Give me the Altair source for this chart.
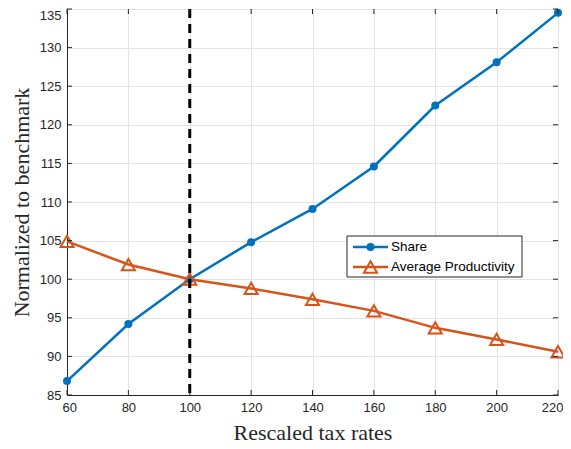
import altair as alt
import pandas as pd

# ---- data ----
tax = [60, 80, 100, 120, 140, 160, 180, 200, 220]
share = [86.8, 94.2, 100.0, 104.8, 109.1, 114.6, 122.5, 128.1, 134.5]
productivity = [104.9, 101.9, 100.0, 98.8, 97.4, 95.9, 93.7, 92.2, 90.6]
series = ["Share", "Average Productivity"]
x_ticks = [60, 80, 100, 120, 140, 160, 180, 200, 220]
y_ticks = [85, 90, 95, 100, 105, 110, 115, 120, 125, 130, 135]
benchmark = [100]

W, H = 491, 386
BLUE, ORANGE = "#0072BD", "#D95319"
AX = "#262626"

share_df = pd.DataFrame({"tax": tax, "value": share, "series": series[0]})
prod_df = pd.DataFrame({"tax": tax, "value": productivity, "series": series[1]})
bench_df = pd.DataFrame({"tax": benchmark})
xt_df = pd.DataFrame({"tax": x_ticks})
yt_df = pd.DataFrame({"value": y_ticks})
leg_df = pd.DataFrame({"series": series})

xscale = alt.Scale(domain=[60, 220], nice=False, zero=False)
yscale = alt.Scale(domain=[85, 135], nice=False, zero=False)
xaxis = alt.Axis(values=x_ticks, title="Rescaled tax rates", tickSize=0,
                 labelFlush=True, labelFlushOffset=5,
                 labelPadding=6, titlePadding=8, format="d")
yaxis = alt.Axis(values=y_ticks, title="Normalized to benchmark", tickSize=0, labelFlush=False,
                 labelPadding=6, titlePadding=6, format="d",
                 labelOffset={"condition": {"test": "datum.value == 135", "value": 6}, "value": 0})

X = alt.X("tax:Q", scale=xscale, axis=xaxis)
Y = alt.Y("value:Q", scale=yscale, axis=yaxis)

share_line = alt.Chart(share_df).mark_line(color=BLUE, strokeWidth=2.5).encode(x=X, y=Y)
share_pts = alt.Chart(share_df).mark_circle(color=BLUE, size=64, opacity=1).encode(x=X, y=Y)
prod_line = alt.Chart(prod_df).mark_line(color=ORANGE, strokeWidth=2.5).encode(x=X, y=Y)
prod_pts = alt.Chart(prod_df).mark_point(shape="triangle-up", filled=False, color=ORANGE,
                                         size=170, strokeWidth=2, opacity=1).encode(x=X, y=Y)

dash = alt.Chart(bench_df).mark_rule(color="black", strokeWidth=3, strokeDash=[9, 6]).encode(x=X)

# inward ticks (MATLAB style)
tick_style = dict(color=AX, strokeWidth=1)
xt_bot = alt.Chart(xt_df).mark_rule(**tick_style).encode(x=X, y=alt.value(H), y2=alt.value(H - 5))
xt_top = alt.Chart(xt_df).mark_rule(**tick_style).encode(x=X, y=alt.value(0), y2=alt.value(5))
yt_left = alt.Chart(yt_df).mark_rule(**tick_style).encode(y=Y, x=alt.value(0), x2=alt.value(5))
yt_right = alt.Chart(yt_df).mark_rule(**tick_style).encode(y=Y, x=alt.value(W - 5), x2=alt.value(W))

# legend box
LX0, LX1, LY0, LY1 = 280, 455, 227, 268
box = alt.Chart(leg_df.head(1)).mark_rect(fill="white", stroke=AX, strokeWidth=1).encode(
    x=alt.value(LX0), x2=alt.value(LX1), y=alt.value(LY0), y2=alt.value(LY1))

def legend_entry(name, color, ypos, point_kwargs):
    d = leg_df[leg_df["series"] == name]
    ln = alt.Chart(d).mark_rule(color=color, strokeWidth=2.5).encode(
        x=alt.value(286), x2=alt.value(321), y=alt.value(ypos))
    pt = alt.Chart(d).mark_point(color=color, opacity=1, **point_kwargs).encode(
        x=alt.value(303.5), y=alt.value(ypos))
    tx = alt.Chart(d).mark_text(align="left", baseline="middle", font="Liberation Sans",
                                fontSize=13.5, color="black").encode(
        x=alt.value(324), y=alt.value(ypos), text="series:N")
    return ln + pt + tx

leg1 = legend_entry(series[0], BLUE, 238, dict(shape="circle", filled=True, size=64))
leg2 = legend_entry(series[1], ORANGE, 258, dict(shape="triangle-up", filled=False, size=170, strokeWidth=2))

chart = alt.layer(
    share_line, prod_line, share_pts, prod_pts, dash,
    xt_bot, xt_top, yt_left, yt_right,
    box, leg1, leg2,
).properties(
    width=W, height=H,
    autosize=alt.AutoSizeParams(type="none"),
    padding={"left": 59, "top": 1, "right": 5, "bottom": 48},
).configure_view(
    stroke=AX, strokeWidth=1
).configure_axis(
    domainColor=AX, gridColor="#e3e3e3", gridWidth=1,
    labelFont="Liberation Sans", labelFontSize=13, labelColor=AX,
    titleFont="Liberation Serif", titleFontSize=22, titleFontWeight="normal", titleColor=AX,
)

chart.save("out.html", embed_options={"renderer": "svg", "actions": False})
